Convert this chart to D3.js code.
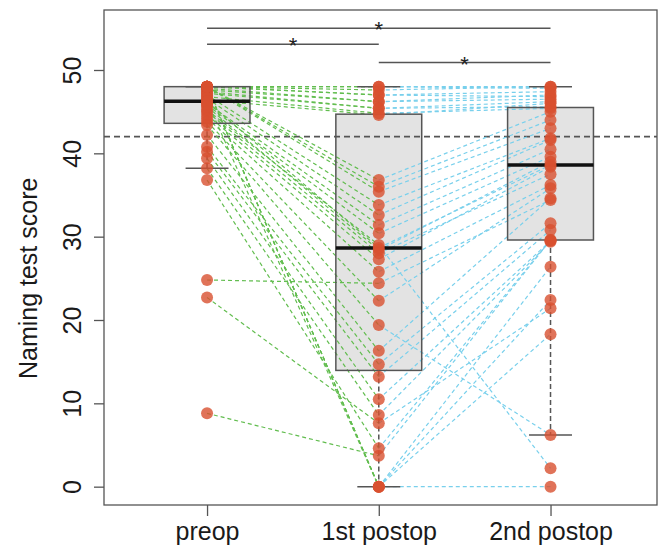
<!DOCTYPE html>
<html>
<head>
<meta charset="utf-8">
<script src="https://cdn.jsdelivr.net/npm/d3@7"></script>
<style>
  body { margin: 0; background: #fff; }
  svg { font-family: "Liberation Sans", Arial, sans-serif; }
</style>
</head>
<body>
<div id="chart"></div>
<script>
// groups along the x axis
var groups = ["preop", "1st postop", "2nd postop"];
// one entry per patient, same order in all three arrays
var preop = [48, 48, 48, 48, 48, 47.8, 47.6, 47.4, 47.2, 46.8, 46.4,
    48, 48, 48, 47.0, 46.6, 46.0, 45.8, 45.2,
    8.8, 24.8, 22.7, 48, 48, 48, 46.25, 46.2, 45.6, 45.0, 44.6, 44.2, 43.8, 43.4, 42.2, 40.8, 40.2, 39.4, 38.2, 36.8];
var post1 = [48, 48, 47.6, 47, 47, 46.2, 46.2, 45.4, 45.4, 44.8, 44.6,
    36.8, 36.0, 35.4, 33.8, 32.6, 31.4, 30.4, 29.0,
    3.7, 24.4, 7.6, 0, 0, 0, 0, 28.65, 28.4, 28.0, 27.3, 25.8, 22.3, 19.4, 16.3, 14.7, 13.2, 10.5, 8.6, 4.6];
var post2 = [48, 47.8, 48, 47.4, 46.8, 47.0, 46.5, 46.2, 45.6, 45.4, 46.0,
    45.0, 44.0, 43.0, 41.8, 41.6, 40.5, 39.6, 2.2,
    29.6, 34.4, 21.4, 0, 18.3, 22.4, 26.4, 38.6, 39.0, 37.5, 38.4, 36.2, 35.8, 6.2, 34.6, 31.6, 30.8, 29.5, 29.4, 29.6];
var cutoff = 42;
var yTicks = [0, 10, 20, 30, 40, 50];
// significance brackets: from group, to group, height (score units)
var sigFrom = [1, 1, 2];
var sigTo = [3, 2, 3];
var sigLevel = [55, 53.1, 50.9];
var sigLabel = ["*", "*", "*"];

var width = 661, height = 547;
var frame = {left: 104, right: 657, top: 10, bottom: 505};

var svg = d3.select("#chart").append("svg")
    .attr("width", width)
    .attr("height", height);

var x = d3.scaleLinear().domain([0.4, 3.62]).range([frame.left, frame.right]);
var y = d3.scaleLinear().domain([-2.2, 57.2]).range([frame.bottom, frame.top]);

var series = [preop, post1, post2];

// Tukey five number summary, same as R fivenum/boxplot.stats
function fivenum(vals) {
    var s = vals.slice().sort(d3.ascending);
    var n = s.length;
    var n4 = Math.floor((n + 3) / 2) / 2;
    var d = [1, n4, (n + 1) / 2, n + 1 - n4, n];
    return d.map(function (k) {
        return 0.5 * (s[Math.floor(k) - 1] + s[Math.ceil(k) - 1]);
    });
}
function boxStats(vals) {
    var f = fivenum(vals);
    var iqr = f[3] - f[1];
    var inside = vals.filter(function (v) { return v >= f[1] - 1.5 * iqr && v <= f[3] + 1.5 * iqr; });
    return {q1: f[1], med: f[2], q3: f[3], lo: d3.min(inside), hi: d3.max(inside)};
}
var stats = series.map(boxStats);
var boxW = x(1.25) - x(1);
var capW = x(1.125) - x(1);

// box fill first, lines go over it
svg.append("g").selectAll("rect")
    .data(stats).enter()
    .append("rect")
    .attr("x", function (d, i) { return x(i + 1) - boxW; })
    .attr("y", function (d) { return y(d.q3); })
    .attr("width", boxW * 2)
    .attr("height", function (d) { return y(d.q1) - y(d.q3); })
    .attr("fill", "#e3e3e3");

// cutoff line
svg.append("line")
    .attr("x1", frame.left).attr("x2", frame.right)
    .attr("y1", y(cutoff)).attr("y2", y(cutoff))
    .attr("stroke", "#555")
    .attr("stroke-width", 1.6)
    .attr("stroke-dasharray", "6,4");

// patient lines
var idx = d3.range(preop.length);
svg.append("g").selectAll("line")
    .data(idx).enter()
    .append("line")
    .attr("x1", x(1)).attr("x2", x(2))
    .attr("y1", function (i) { return y(preop[i]); })
    .attr("y2", function (i) { return y(post1[i]); })
    .attr("stroke", "#62bd4f")
    .attr("stroke-width", 1.2)
    .attr("stroke-dasharray", "4,3");
svg.append("g").selectAll("line")
    .data(idx).enter()
    .append("line")
    .attr("x1", x(2)).attr("x2", x(3))
    .attr("y1", function (i) { return y(post1[i]); })
    .attr("y2", function (i) { return y(post2[i]); })
    .attr("stroke", "#79d0ec")
    .attr("stroke-width", 1.2)
    .attr("stroke-dasharray", "4,3");

// box outlines, whiskers, medians
var boxes = svg.append("g").selectAll("g")
    .data(stats).enter()
    .append("g");
boxes.append("rect")
    .attr("x", function (d, i) { return x(i + 1) - boxW; })
    .attr("y", function (d) { return y(d.q3); })
    .attr("width", boxW * 2)
    .attr("height", function (d) { return y(d.q1) - y(d.q3); })
    .attr("fill", "none")
    .attr("stroke", "#555")
    .attr("stroke-width", 1.5);
boxes.append("line")
    .attr("x1", function (d, i) { return x(i + 1); })
    .attr("x2", function (d, i) { return x(i + 1); })
    .attr("y1", function (d) { return y(d.q1); })
    .attr("y2", function (d) { return y(d.lo); })
    .attr("stroke", "#555").attr("stroke-width", 1.5).attr("stroke-dasharray", "5,3");
boxes.append("line")
    .attr("x1", function (d, i) { return x(i + 1); })
    .attr("x2", function (d, i) { return x(i + 1); })
    .attr("y1", function (d) { return y(d.q3); })
    .attr("y2", function (d) { return y(d.hi); })
    .attr("stroke", "#555").attr("stroke-width", 1.5).attr("stroke-dasharray", "5,3");
["lo", "hi"].forEach(function (k) {
    boxes.append("line")
        .attr("x1", function (d, i) { return x(i + 1) - capW; })
        .attr("x2", function (d, i) { return x(i + 1) + capW; })
        .attr("y1", function (d) { return y(d[k]); })
        .attr("y2", function (d) { return y(d[k]); })
        .attr("stroke", "#555").attr("stroke-width", 1.5);
});
boxes.append("line")
    .attr("x1", function (d, i) { return x(i + 1) - boxW; })
    .attr("x2", function (d, i) { return x(i + 1) + boxW; })
    .attr("y1", function (d) { return y(d.med); })
    .attr("y2", function (d) { return y(d.med); })
    .attr("stroke", "#111").attr("stroke-width", 3.5);

// points
series.forEach(function (vals, gi) {
    svg.append("g").selectAll("circle")
        .data(vals).enter()
        .append("circle")
        .attr("cx", x(gi + 1))
        .attr("cy", function (d) { return y(d); })
        .attr("r", 6)
        .attr("fill", "#d8502f")
        .attr("fill-opacity", 0.8);
});

// significance brackets
var sig = svg.append("g").selectAll("g")
    .data(sigLevel).enter()
    .append("g");
sig.append("line")
    .attr("x1", function (d, i) { return x(sigFrom[i]); })
    .attr("x2", function (d, i) { return x(sigTo[i]); })
    .attr("y1", function (d) { return y(d); })
    .attr("y2", function (d) { return y(d); })
    .attr("stroke", "#555").attr("stroke-width", 1.5);
sig.append("text")
    .attr("x", function (d, i) { return (x(sigFrom[i]) + x(sigTo[i])) / 2; })
    .attr("y", function (d) { return y(d) + 9; })
    .attr("text-anchor", "middle")
    .attr("font-size", 22)
    .attr("fill", "#222")
    .text(function (d, i) { return sigLabel[i]; });

// frame
svg.append("rect")
    .attr("x", frame.left).attr("y", frame.top)
    .attr("width", frame.right - frame.left)
    .attr("height", frame.bottom - frame.top)
    .attr("fill", "none")
    .attr("stroke", "#555")
    .attr("stroke-width", 1.3);

// axes
var yAxis = svg.append("g")
    .attr("transform", "translate(" + frame.left + ",0)")
    .call(d3.axisLeft(y).tickValues(yTicks).tickSize(10).tickPadding(0));
yAxis.select(".domain").remove();
yAxis.selectAll("line").attr("stroke", "#555").attr("stroke-width", 1.3);
yAxis.selectAll("text")
    .attr("x", null).attr("dy", null)
    .attr("transform", "translate(-23,0) rotate(-90)")
    .attr("text-anchor", "middle")
    .attr("font-size", 25)
    .attr("font-family", "Liberation Sans, Arial, sans-serif")
    .attr("fill", "#1a1a1a");

var xAxis = svg.append("g")
    .attr("transform", "translate(0," + frame.bottom + ")")
    .call(d3.axisBottom(x).tickValues([1, 2, 3])
        .tickFormat(function (d) { return groups[d - 1]; })
        .tickSize(11).tickPadding(0));
xAxis.select(".domain").remove();
xAxis.selectAll("line").attr("stroke", "#555").attr("stroke-width", 1.3);
xAxis.selectAll("text")
    .attr("dy", null)
    .attr("y", 35)
    .attr("font-size", 25)
    .attr("font-family", "Liberation Sans, Arial, sans-serif")
    .attr("fill", "#1a1a1a");

svg.append("text")
    .attr("transform", "translate(37," + y(25) + ") rotate(-90)")
    .attr("text-anchor", "middle")
    .attr("font-size", 25)
    .attr("fill", "#1a1a1a")
    .text("Naming test score");
</script>
</body>
</html>
